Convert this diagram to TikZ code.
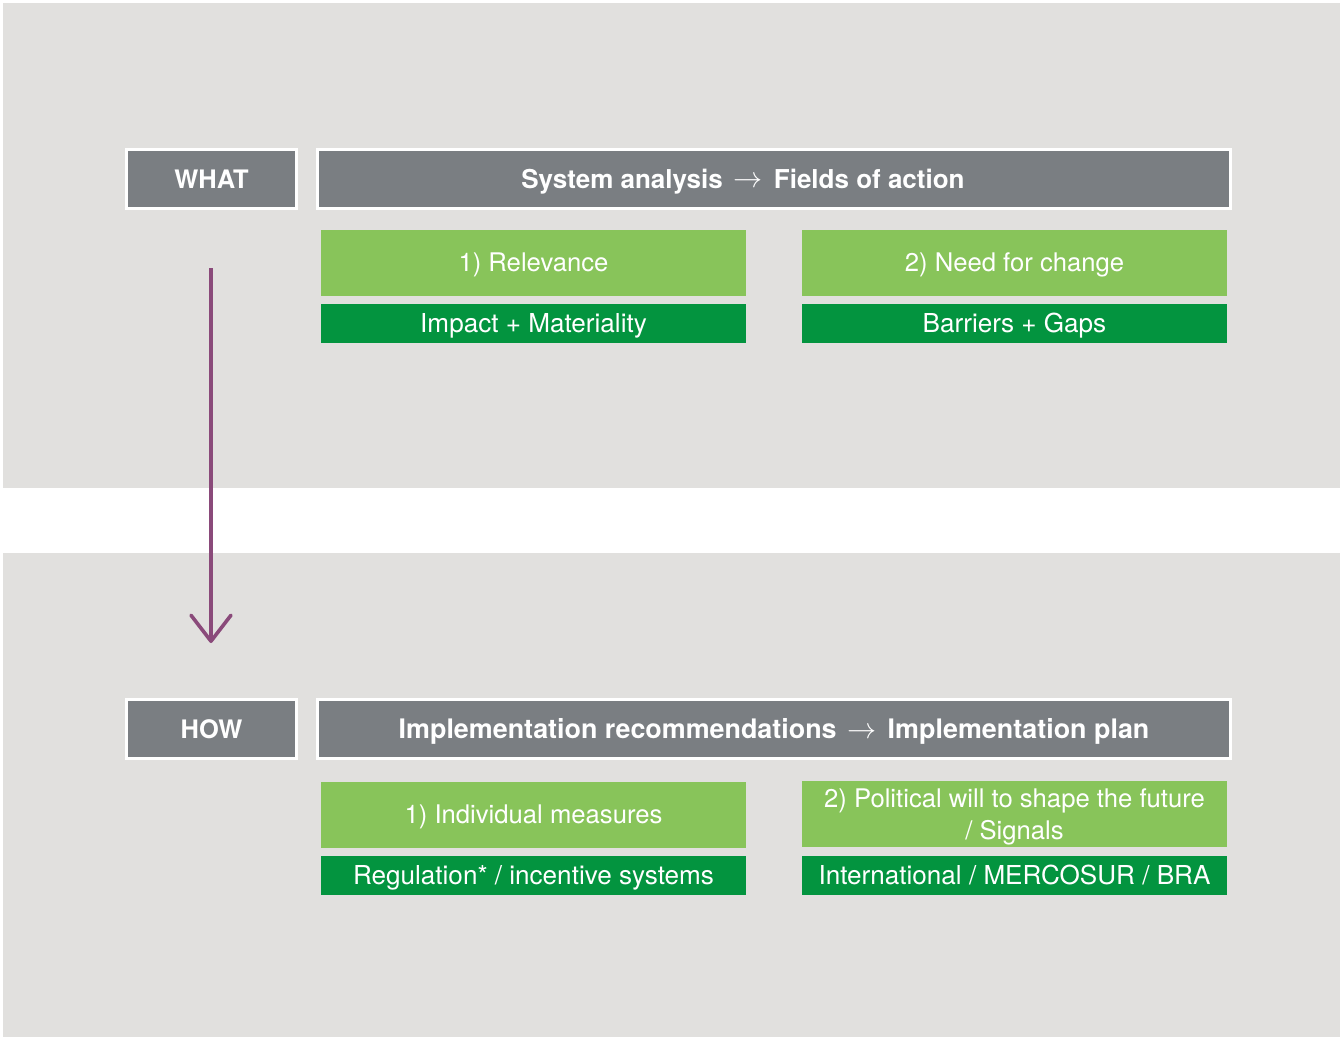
\documentclass[tikz,border=0pt]{standalone}
\usepackage{fontspec}
\usepackage{graphicx}
\setmainfont{TeX Gyre Heros}
\usetikzlibrary{arrows.meta}
\definecolor{panelbg}{HTML}{E1E0DE}
\definecolor{headgrey}{HTML}{7A7E82}
\definecolor{lightgreen}{HTML}{88C45A}
\definecolor{darkgreen}{HTML}{03943F}
\definecolor{arrowpurple}{HTML}{8A4A7A}
\newcommand{\titlearrow}{\hspace{0.22cm}\raisebox{0.02em}{\scalebox{1.15}{$\rightarrow$}}\hspace{0.22cm}}
\tikzset{
  head/.style={draw=white, line width=3*0.02cm, fill=headgrey, text=white,
    font=\fontsize{14.5}{17}\selectfont\bfseries, inner sep=0pt,
    text height=10.4pt, text depth=0pt},
  lbox/.style={fill=lightgreen, text=white, inner sep=0pt,
    minimum width=425*0.02cm, minimum height=66*0.02cm,
    font=\fontsize{14.6}{18.2}\selectfont, align=center},
  lcap/.style={text height=10.5pt, text depth=0pt},
  dbox/.style={fill=darkgreen, text=white, inner sep=0pt,
    minimum width=425*0.02cm, minimum height=39*0.02cm,
    font=\fontsize{14.85}{17}\selectfont, text height=10.7pt, text depth=0pt},
  flow/.style={draw=arrowpurple, line width=3.2*0.02cm,
    -{Straight Barb[length=0.52cm, width=0.8cm, line width=3.6*0.02cm, round]}}
}
\begin{document}
\begin{tikzpicture}[x=0.02cm, y=-0.02cm]
\useasboundingbox (0,0) rectangle (1340,1038);
\fill[white] (0,0) rectangle (1340,1038);
\fill[panelbg] (3,3) rectangle (1340,488);
\fill[panelbg] (3,553) rectangle (1340,1037);
% WHAT row
\node[head, minimum width=170*0.02cm, minimum height=59*0.02cm] (what) at (211.5,179) {WHAT};
\node[head, minimum width=913*0.02cm, minimum height=59*0.02cm,
  font=\fontsize{14.8}{17}\selectfont\bfseries, text height=10.6pt] (sys) at (774,179)
  {System analysis\titlearrow Fields of action\hspace*{1.24cm}};
\node[lbox, lcap] (rel) at (533.5,262.5) {1) Relevance};
\node[lbox, lcap] (need) at (1014.5,262.5) {2) Need for change};
\node[dbox] (imp) at (533.5,323.5) {Impact + Materiality};
\node[dbox] (bar) at (1014.5,323.5) {Barriers + Gaps};
% HOW row
\node[head, minimum width=170*0.02cm, minimum height=59*0.02cm] (how) at (211.5,729) {HOW};
\node[head, minimum width=913*0.02cm, minimum height=59*0.02cm,
  font=\fontsize{15.3}{17}\selectfont\bfseries, text height=11pt] (impl) at (774,729)
  {Implementation recommendations\titlearrow Implementation plan};
\node[lbox, lcap] (ind) at (533.5,814.5) {1) Individual measures};
\node[lbox, text depth=0pt] (pol) at (1014.5,814) {2) Political will to shape the future\\ / Signals};
\node[dbox] (reg) at (533.5,875) {Regulation* / incentive systems};
\node[dbox] (intl) at (1014.5,875) {International / MERCOSUR / BRA};
% arrow
\coordinate (astart) at (211,268);
\coordinate (aend) at (211,643);
\draw[flow] (astart) -- (aend);
\end{tikzpicture}
\end{document}
